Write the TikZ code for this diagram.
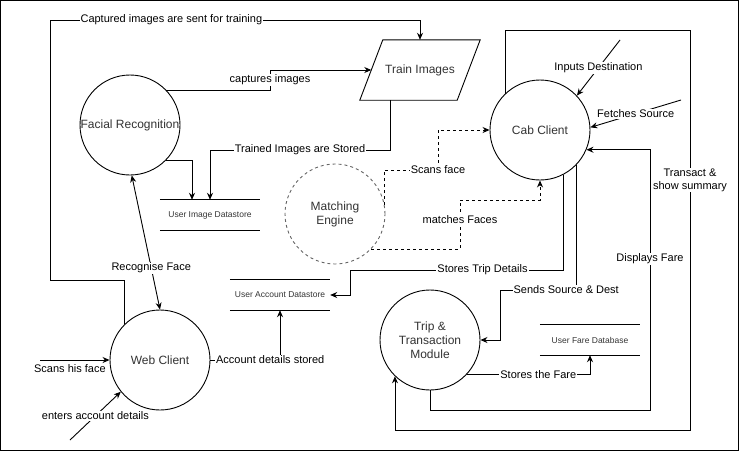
\documentclass[tikz,border=0pt]{standalone}
\usepackage{fontspec}
\setmainfont{Liberation Sans}
\usetikzlibrary{arrows.meta}
\definecolor{txtGris}{HTML}{333333}
\definecolor{lineaGris}{HTML}{666666}
\tikzset{
  dfd/proc/.style={circle, draw=black, fill=white, minimum size=100pt,
    inner sep=0pt, font=\fontsize{12}{14}\selectfont\color{txtGris},
    align=center, line width=0.9pt},
  dfd/eng/.style={dfd/proc, draw=lineaGris, dashed},
  dfd/io/.style={rectangle, minimum width=97pt, minimum height=60pt,
    inner sep=0pt, font=\fontsize{12}{14}\selectfont\color{txtGris},
    align=center},
  dfd/store/.style={rectangle, minimum width=100pt, minimum height=30pt,
    inner sep=0pt, font=\fontsize{8.5}{10}\selectfont\color{txtGris}},
  dfd/arr/.style={-{Stealth[length=7pt,width=6pt]}, line width=0.9pt},
  dfd/both/.style={{Stealth[length=7pt,width=6pt]}-{Stealth[length=7pt,width=6pt]},
    line width=0.9pt},
  dfd/dash/.style={dfd/arr, dashed},
  dfd/lbl/.style={font=\fontsize{11}{13}\selectfont, fill=white,
    inner sep=1pt, align=center}
}

\begin{document}
\begin{tikzpicture}[x=1pt, y=-1pt]
  \useasboundingbox (0,0) rectangle (741,451);
  \draw[line width=0.9pt] (0.5,0.5) rectangle (738.5,450.5);

  \node[dfd/proc] (fr) at (130,125) {Facial Recognition};
  \node[dfd/proc] (wc) at (160,360) {Web Client};
  \node[dfd/proc] (cc) at (540,130) {Cab Client};
  \node[dfd/proc] (tt) at (430,340) {Trip \&\\Transaction\\Module};
  \node[dfd/eng] (me) at (335,214) {Matching\\Engine};
  \node[dfd/io] (train) at (420,70) {Train Images};
  \node[dfd/store] (uis) at (210,215) {User Image Datastore};
  \node[dfd/store] (uad) at (280,295) {User Account Datastore};
  \node[dfd/store] (ufd) at (590,340) {User Fare Database};
  \coordinate (face) at (40,360);
  \coordinate (acct) at (70,440);
  \coordinate (dest) at (620,40);
  \coordinate (src) at (681,100);

  \draw[line width=0.9pt] ([xshift=11.5pt]train.north west) -- ([xshift=11.5pt]train.north east)
    -- ([xshift=-11.5pt]train.south east) -- ([xshift=-11.5pt]train.south west) -- cycle;
  \foreach \s in {uis, uad, ufd}
    \draw[line width=0.9pt] (\s.north west) -- (\s.north east) (\s.south west) -- (\s.south east);

  \draw[dfd/arr] (wc.135) |- (50,280) |- node[dfd/lbl, pos=0.664]{Captured images are sent for training} (420,20) -- (train.north);
  \draw[dfd/arr] (fr.44) -| node[dfd/lbl, pos=0.75]{captures images} (270,70) -- (train.west);
  \draw[dfd/arr] ([xshift=-30pt]train.south) |- node[dfd/lbl, pos=0.75]{Trained Images are Stored} (210,150) -- (uis.north);
  \draw[dfd/arr] (fr.-44) -| ([xshift=-18pt]uis.north);
  \draw[dfd/both] (fr.-88) -- node[dfd/lbl, pos=0.69]{Recognise Face} (wc.north);
  \draw[dfd/arr] (face) -- node[dfd/lbl, fill=none, below=3pt, pos=0.43]{Scans his face} (wc.west);
  \draw[dfd/arr] (acct) -- node[dfd/lbl]{enters account details} (wc.219);
  \draw[dfd/arr] (wc.east) -| node[dfd/lbl, pos=0.43]{Account details stored} (uad.south);
  \draw[dfd/arr] (cc.-62.6) |- node[dfd/lbl, pos=0.69]{Stores Trip Details} (350,270) |- (uad.east);
  \draw[dfd/arr] (cc.-44) |- node[dfd/lbl, pos=0.566]{Sends Source \& Dest} (500,290) |- (tt.east);
  \draw[dfd/arr] (tt.south) |- (650,410) |- node[dfd/lbl, pos=0.29]{Displays Fare} (cc.-23.6);
  \draw[dfd/arr] (cc.134) |- (690,30) -- node[dfd/lbl, pos=0.375]{Transact \&\\show summary} (690,430) -| (tt.226.6);
  \draw[dfd/arr] (tt.-43) -| node[dfd/lbl, pos=0.29]{Stores the Fare} (ufd.south);
  \draw[dfd/arr] (dest) -- node[dfd/lbl]{Inputs Destination} (cc.43);
  \draw[dfd/arr] (src) -- node[dfd/lbl]{Fetches Source} (cc.3);
  \draw[dfd/dash] (me.10) |- (438,170) node[dfd/lbl]{Scans face} |- (cc.west);
  \draw[dfd/dash] (me.-44) -| node[dfd/lbl, pos=0.8]{matches Faces} (460,200) -| (cc.south);
\end{tikzpicture}
\end{document}
